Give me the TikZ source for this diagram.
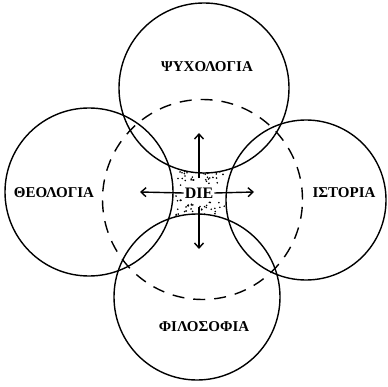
\documentclass[tikz,border=0pt]{standalone}
\usepackage{fontspec}
\setmainfont{Liberation Serif}
\usetikzlibrary{arrows.meta}
\begin{document}
\begin{tikzpicture}[x=1pt,y=-1pt,
  ring/.style={circle,draw=black,line width=1.4pt,inner sep=0pt},
  dashring/.style={circle,draw=black,line width=1.4pt,dash pattern=on 12pt off 9pt,inner sep=0pt},
  lbl/.style={font=\bfseries\fontsize{15}{17}\selectfont},
  arr/.style={line width=1.4pt,-{Straight Barb[length=5pt,width=9pt,line width=1.4pt]}}]
\useasboundingbox (0,0) rectangle (387,387);
\fill[white] (0,0) rectangle (387,387);
% dots in the central region
\pgfmathsetseed{11}
\foreach \i in {1,...,30}{
  \pgfmathsetmacro\rx{176+50*rnd}
  \pgfmathsetmacro\ry{171+13*rnd}
  \fill[black] (\rx,\ry) circle (0.9pt);
}
\foreach \i in {1,...,32}{
  \pgfmathsetmacro\rx{176+50*rnd}
  \pgfmathsetmacro\ry{202+15*rnd}
  \fill[black] (\rx,\ry) circle (0.9pt);
}
\foreach \i in {1,...,5}{
  \pgfmathsetmacro\rx{176+5*rnd}
  \pgfmathsetmacro\ry{185+16*rnd}
  \fill[black] (\rx,\ry) circle (0.9pt);
}
% white interiors of the circles
\fill[white] (204,88) circle (85);
\fill[white] (89,192) circle (84);
\fill[white] (306,200) circle (80);
\fill[white] (197,297) circle (83);
% circles
\node[dashring,minimum size=200pt] (D) at (202.5,199.5) {};
\node[ring,minimum size=170pt] (T) at (204,88) {};
\node[ring,minimum size=168pt] (L) at (89,192) {};
\node[ring,minimum size=160pt] (R) at (306,200) {};
\node[ring,minimum size=166pt] (B) at (197,297) {};
% labels
\node[lbl] (tl) at (207,67) {ΨΥΧΟΛΟΓΙΑ};
\node[lbl] (ll) at (54,193) {ΘΕΟΛΟΓΙΑ};
\node[lbl] (rl) at (344,193) {ΙΣΤΟΡΙΑ};
\node[lbl] (bl) at (204,327) {ΦΙΛΟΣΟΦΙΑ};
% centre
\node[font=\bfseries\fontsize{16}{18}\selectfont,inner sep=1pt] (die) at (199,193) {DIE};
\coordinate (up) at (199,133);
\coordinate (dn) at (199,249);
\coordinate (lf) at (140,192);
\coordinate (rt) at (254,192);
\draw[arr] (199,178) -- (up);
\draw[arr] (199,207) -- (dn);
\draw[arr] (die.west) -- (lf);
\draw[arr] (die.east) -- (rt);
\end{tikzpicture}
\end{document}
